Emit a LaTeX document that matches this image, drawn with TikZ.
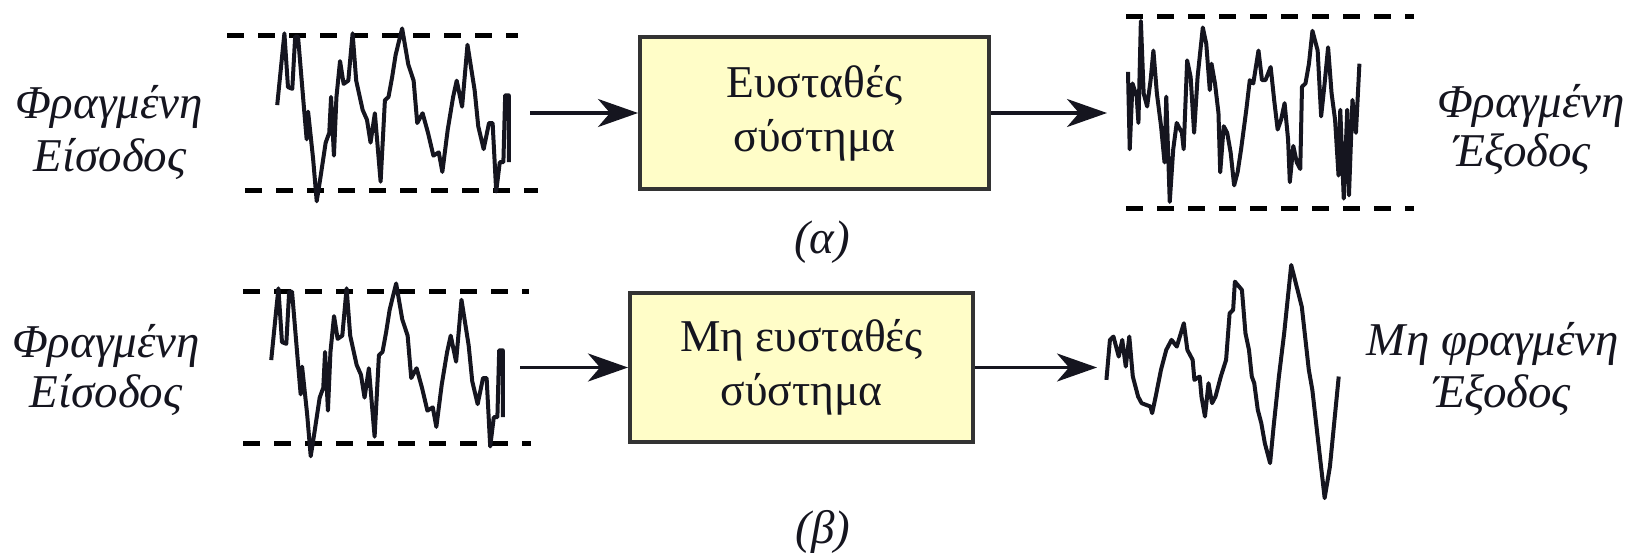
\documentclass[tikz,border=0pt]{standalone}
\usepackage{fontspec}
\setmainfont{Liberation Serif}
\usetikzlibrary{arrows.meta}
\definecolor{boxfill}{HTML}{FFFDC8}
\definecolor{boxline}{HTML}{333333}
\definecolor{ink}{HTML}{15151F}
\tikzset{
 sig/.style={line width=4pt, line join=round, ink},
 bound/.style={line width=5pt, dash pattern=on 17pt off 14pt, black},
 sysbox/.style={draw=boxline, fill=boxfill, line width=4pt, align=center, inner sep=0pt, text=ink, font=\fontsize{45.5}{54}\selectfont},
 conn/.style={line width=3.5pt, ink, -{Stealth[length=40pt,width=28pt,inset=12pt]}},
 lbl/.style={anchor=base, inner sep=0pt, text=ink, font=\fontsize{47}{52}\selectfont\itshape},
}
\newcommand\insig{\draw[sig] plot coordinates {(780,315) (800,95) (810,260) (822,265) (830,105) (838,105) (855,330) (862,420) (866,335) (880,480) (890,610) (900,540) (915,430) (925,400) (930,290) (938,470) (945,290) (955,180) (965,250) (978,240) (990,95) (1000,240) (1018,330) (1030,360) (1040,430) (1052,340) (1068,550) (1080,300) (1090,290) (1100,230) (1110,160) (1128,80) (1145,190) (1160,240) (1170,370) (1185,340) (1200,400) (1215,470) (1230,460) (1240,520) (1255,390) (1270,290) (1280,240) (1295,320) (1310,130) (1330,270) (1340,380) (1355,450) (1370,370) (1380,370) (1390,580) (1400,490) (1410,490) (1415,285) (1425,285) (1425,490)};}
\begin{document}
\begin{tikzpicture}[x=1pt,y=-1pt]
\useasboundingbox (0,0) rectangle (1632,554);
% ---------- (a) ----------
\node[lbl] (inA1) at (109,118) {Φραγμένη};
\node[lbl] (inA2) at (110,171) {Είσοδος};
\draw[bound] (227,35) -- (518,35);
\draw[bound] (245,190) -- (538,190);
\begin{scope}[shift={(-2.8pt,-2.4pt)}, x=0.359pt, y=-0.326pt]
\insig
\end{scope}
\node[sysbox, minimum width=349pt, minimum height=152pt] (sysA) at (814.5,113) {Ευσταθές\\σύστημα};
\coordinate (srcA) at (530,113);
\coordinate (dstA) at (1107,113);
\draw[conn] (srcA) -- (sysA.west);
\draw[conn] (sysA.east) -- (dstA);
\draw[bound] (1126,16) -- (1414,16);
\draw[bound] (1126,208) -- (1414,208);
\begin{scope}[shift={(1081pt,-1.2pt)}, x=0.348pt, y=-0.329pt]
\draw[sig] plot coordinates {(135,215) (140,450) (148,250) (160,290) (165,370) (172,60) (180,280) (190,320) (200,240) (208,150) (218,280) (230,380) (240,490) (245,290) (255,610) (265,450) (275,370) (290,400) (295,450) (305,180) (315,230) (325,400) (335,230) (350,80) (360,130) (370,270) (375,190) (385,250) (395,340) (400,520) (410,380) (420,400) (430,460) (440,560) (450,520) (460,450) (475,330) (485,240) (495,250) (510,150) (520,240) (530,240) (545,200) (555,300) (565,390) (575,360) (585,310) (595,420) (600,550) (610,440) (620,490) (630,510) (635,260) (645,250) (655,190) (665,90) (680,150) (690,350) (700,250) (710,140) (720,280) (730,360) (740,530) (745,330) (755,600) (765,330) (770,590) (780,300) (790,400) (800,190)};
\end{scope}
\node[lbl] (outA1) at (1531,117) {Φραγμένη};
\node[lbl] (outA2) at (1522,166) {Έξοδος};
\node[lbl] (capA) at (822,253) {(α)};
% ---------- (b) ----------
\node[lbl] (inB1) at (106,357) {Φραγμένη};
\node[lbl] (inB2) at (106,407) {Είσοδος};
\draw[bound] (243,291) -- (529,291);
\draw[bound] (243,443) -- (531,443);
\begin{scope}[shift={(-8.8pt,-257.4pt)}, x=0.359pt, y=-0.326pt]
\insig
\end{scope}
\node[sysbox, minimum width=343pt, minimum height=149pt] (sysB) at (801.5,367.5) {Μη ευσταθές\\σύστημα};
\coordinate (srcB) at (520,367.5);
\coordinate (dstB) at (1097,367.5);
\draw[conn] (srcB) -- (sysB.west);
\draw[conn] (sysB.east) -- (dstB);
\begin{scope}[shift={(1080pt,-250pt)}, x=0.352pt, y=-0.333pt]
\draw[sig] plot coordinates {(75,390) (85,270) (95,260) (105,300) (110,320) (120,270) (130,350) (140,260) (150,380) (165,440) (175,460) (200,470) (205,490) (215,440) (230,360) (245,300) (260,270) (275,290) (295,220) (305,300) (320,330) (325,390) (340,380) (345,440) (355,500) (365,400) (375,460) (385,440) (400,380) (415,330) (425,190) (435,180) (440,95) (460,120) (470,250) (480,300) (488,380) (495,400) (505,480) (515,520) (525,580) (540,640) (550,530) (565,380) (580,250) (600,45) (630,170) (650,360) (660,420) (675,560) (695,745) (710,650) (735,380)};
\end{scope}
\node[lbl] (outB1) at (1493,355) {Μη φραγμένη};
\node[lbl] (outB2) at (1502,407) {Έξοδος};
\node[lbl] (capB) at (823,543) {(β)};
\end{tikzpicture}
\end{document}
